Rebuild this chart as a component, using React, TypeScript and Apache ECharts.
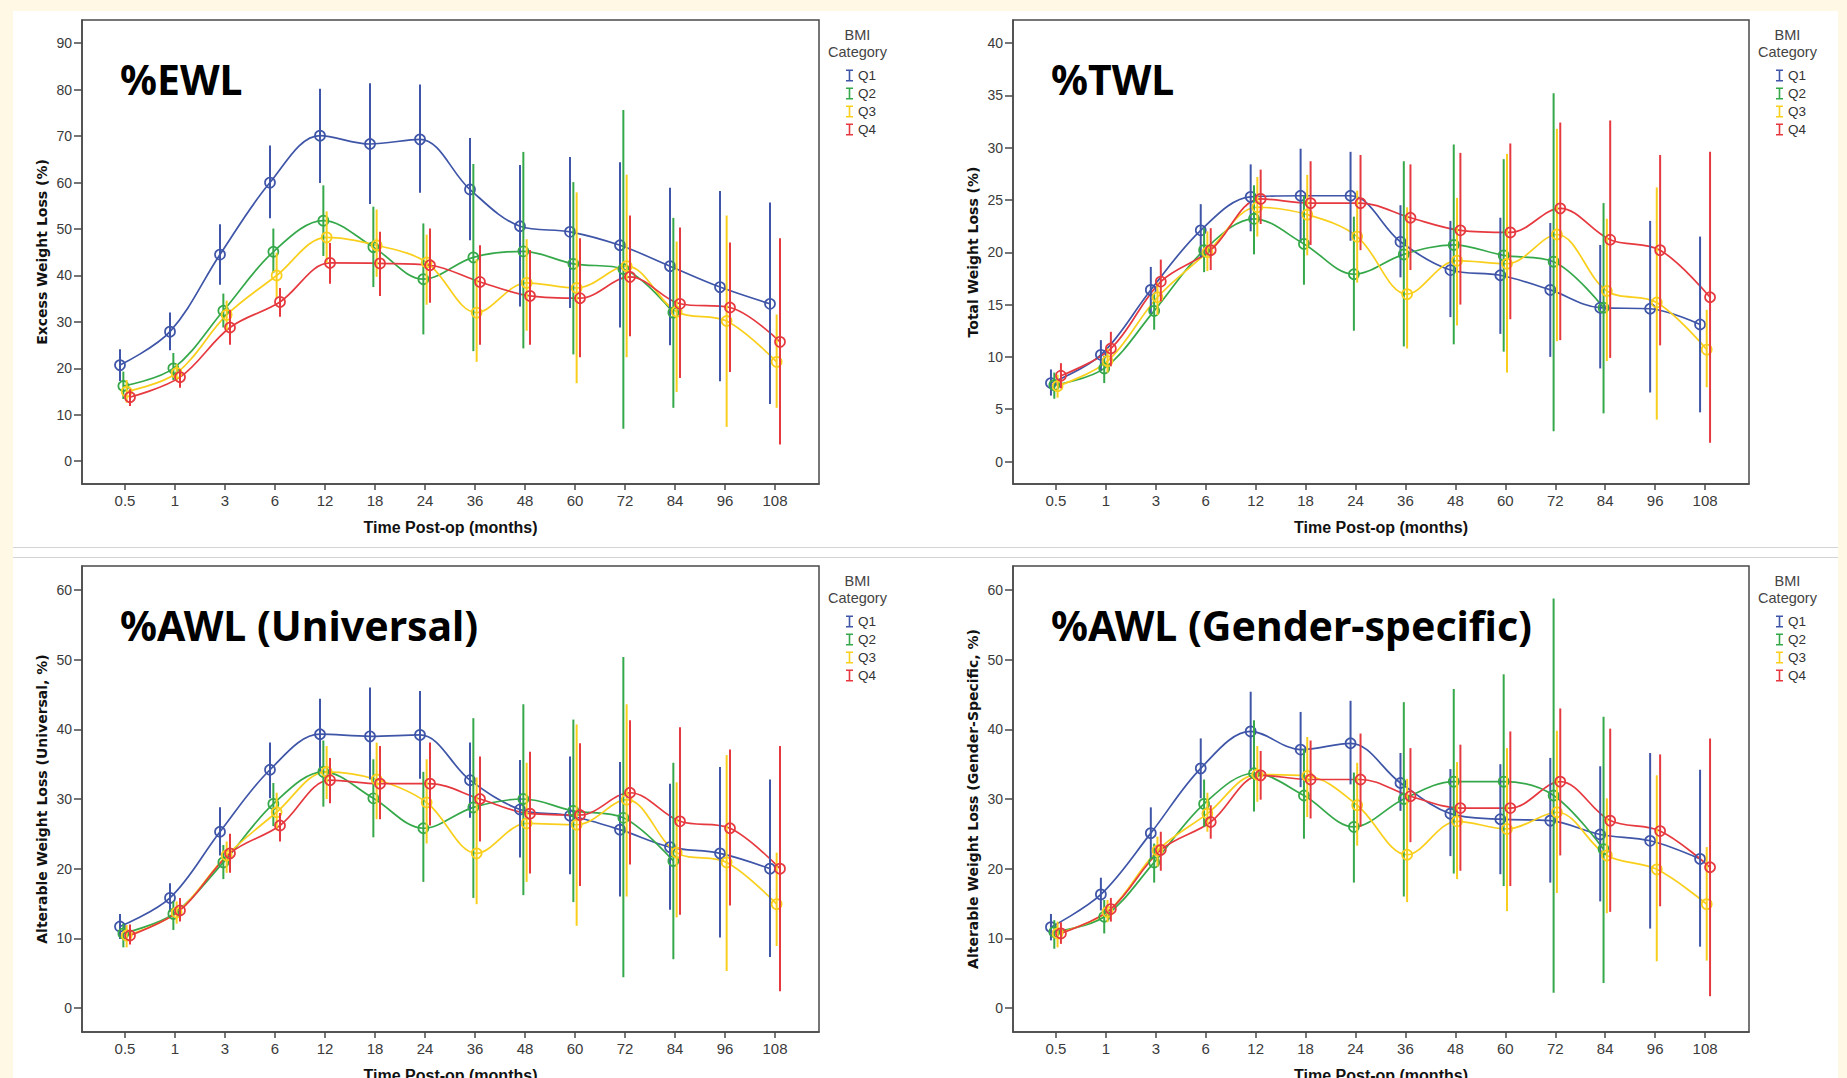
import React, { useEffect, useRef } from "react";
import * as echarts from "echarts";

// ---------------- data ----------------
const categories = ["0.5", "1", "3", "6", "12", "18", "24", "36", "48", "60", "72", "84", "96", "108"];
const groups = ["Q1", "Q2", "Q3", "Q4"];
const groupColors = ["#3E55A8", "#35A84A", "#F9CF1C", "#E6393F"];
const groupOffsets = [-0.1, -0.033, 0.033, 0.1];

const ewlTicks = [0, 10, 20, 30, 40, 50, 60, 70, 80, 90];
const twlTicks = [0, 5, 10, 15, 20, 25, 30, 35, 40];
const awlTicks = [0, 10, 20, 30, 40, 50, 60];

// %EWL
const ewlQ1Mean = [20.7, 27.9, 44.5, 60.0, 70.1, 68.3, 69.3, 58.5, 50.6, 49.4, 46.5, 42.0, 37.5, 33.9];
const ewlQ1Low = [17.3, 23.9, 38.0, 52.3, 59.9, 55.4, 57.8, 47.6, 33.3, 33.0, 28.8, 25.0, 17.2, 12.3];
const ewlQ1High = [24.1, 32.0, 51.0, 68.0, 80.2, 81.4, 81.1, 69.6, 63.8, 65.5, 64.4, 58.9, 58.2, 55.7];
const ewlQ2Mean = [16.2, 20.0, 32.4, 45.1, 51.8, 46.1, 39.2, 43.9, 45.2, 42.5, 41.4, 32.0, null, null];
const ewlQ2Low = [13.4, 17.5, 28.8, 40.5, 44.2, 37.5, 27.3, 23.7, 24.3, 23.0, 7.0, 11.5, null, null];
const ewlQ2High = [19.3, 23.3, 36.1, 50.1, 59.4, 54.8, 51.2, 64.0, 66.6, 60.1, 75.6, 52.4, null, null];
const ewlQ3Mean = [15.0, 19.0, 31.5, 40.0, 48.2, 46.5, 42.8, 32.0, 38.4, 37.3, 42.0, 32.2, 30.2, 21.4];
const ewlQ3Low = [12.6, 17.2, 28.1, 35.0, 42.7, 39.7, 33.7, 21.4, 28.1, 16.8, 22.4, 14.9, 7.4, 11.5];
const ewlQ3High = [17.5, 20.9, 34.6, 44.9, 53.8, 54.2, 48.8, 43.5, 47.8, 57.9, 61.7, 47.3, 52.9, 31.6];
const ewlQ4Mean = [13.8, 18.1, 28.8, 34.3, 42.7, 42.6, 42.2, 38.6, 35.6, 35.1, 39.7, 33.9, 33.1, 25.7];
const ewlQ4Low = [11.9, 15.8, 25.1, 31.1, 38.2, 35.6, 34.1, 25.1, 25.1, 22.4, 26.9, 17.9, 19.2, 3.6];
const ewlQ4High = [15.5, 19.8, 32.6, 37.3, 47.0, 49.4, 50.1, 46.5, 45.5, 48.0, 52.9, 50.3, 47.1, 48.0];

// %TWL
const twlQ1Mean = [7.5, 10.2, 16.4, 22.1, 25.3, 25.4, 25.4, 21.0, 18.3, 17.8, 16.4, 14.7, 14.6, 13.1];
const twlQ1Low = [6.3, 8.7, 14.1, 19.5, 22.0, 21.0, 21.1, 17.6, 13.8, 12.2, 10.0, 8.9, 6.6, 4.7];
const twlQ1High = [8.8, 11.6, 18.6, 24.6, 28.4, 29.9, 29.6, 24.5, 23.0, 23.3, 22.8, 20.7, 23.0, 21.5];
const twlQ2Mean = [7.3, 8.9, 14.4, 20.2, 23.2, 20.8, 17.9, 19.8, 20.7, 19.7, 19.1, 14.7, null, null];
const twlQ2Low = [6.0, 7.5, 12.6, 18.1, 19.8, 16.9, 12.5, 11.0, 11.2, 10.5, 2.9, 4.6, null, null];
const twlQ2High = [8.5, 10.1, 16.0, 22.3, 26.4, 25.4, 23.4, 28.7, 30.3, 28.9, 35.2, 24.7, null, null];
const twlQ3Mean = [7.2, 9.6, 15.7, 20.0, 24.3, 23.6, 21.5, 16.0, 19.2, 18.9, 21.7, 16.3, 15.2, 10.7];
const twlQ3Low = [6.1, 8.5, 14.0, 18.2, 21.5, 19.7, 17.1, 10.8, 13.0, 8.5, 11.5, 9.6, 4.0, 7.1];
const twlQ3High = [8.3, 10.8, 17.1, 22.0, 27.2, 27.4, 25.9, 24.3, 25.2, 29.4, 31.8, 23.2, 26.2, 14.5];
const twlQ4Mean = [8.2, 10.8, 17.2, 20.2, 25.1, 24.7, 24.7, 23.3, 22.1, 21.9, 24.2, 21.2, 20.2, 15.7];
const twlQ4Low = [7.0, 9.1, 15.3, 18.3, 22.7, 20.7, 20.2, 18.3, 15.0, 13.6, 11.6, 9.9, 11.1, 1.8];
const twlQ4High = [9.4, 12.4, 19.3, 22.3, 27.9, 28.7, 29.3, 28.4, 29.5, 30.4, 32.4, 32.6, 29.3, 29.6];

// %AWL (Universal)
const awuQ1Mean = [11.7, 15.8, 25.3, 34.2, 39.3, 39.0, 39.2, 32.7, 28.5, 27.6, 25.6, 23.1, 22.2, 20.0];
const awuQ1Low = [9.9, 13.8, 21.9, 30.1, 34.0, 32.8, 32.9, 27.3, 21.6, 19.2, 16.0, 14.1, 10.1, 7.3];
const awuQ1High = [13.5, 17.9, 28.8, 38.1, 44.4, 46.0, 45.5, 38.1, 35.6, 36.1, 35.3, 32.2, 34.6, 32.8];
const awuQ2Mean = [10.7, 13.5, 20.9, 29.3, 33.9, 30.1, 25.8, 28.8, 30.0, 28.3, 27.3, 21.1, null, null];
const awuQ2Low = [8.7, 11.2, 18.5, 26.1, 28.9, 24.5, 18.1, 15.8, 16.2, 15.2, 4.4, 7.0, null, null];
const awuQ2High = [12.1, 15.3, 23.4, 32.3, 38.4, 35.7, 33.9, 41.6, 43.6, 41.4, 50.4, 35.2, null, null];
const awuQ3Mean = [10.4, 13.7, 21.9, 28.1, 33.9, 32.8, 29.5, 22.2, 26.5, 26.3, 29.9, 22.3, 20.9, 14.9];
const awuQ3Low = [8.7, 12.1, 19.4, 25.5, 30.0, 27.1, 23.6, 14.9, 18.1, 11.8, 16.0, 13.0, 5.3, 8.9];
const awuQ3High = [11.9, 15.3, 23.9, 30.9, 37.6, 38.1, 35.7, 33.1, 35.2, 40.7, 43.6, 32.4, 36.3, 22.3];
const awuQ4Mean = [10.4, 14.0, 22.2, 26.2, 32.7, 32.2, 32.2, 30.0, 27.9, 27.7, 30.9, 26.8, 25.8, 20.0];
const awuQ4Low = [9.1, 12.4, 19.4, 23.9, 29.4, 27.1, 26.2, 23.9, 19.3, 17.5, 20.6, 13.4, 14.7, 2.4];
const awuQ4High = [12.0, 15.8, 25.0, 28.0, 35.9, 37.6, 38.1, 36.1, 36.8, 38.0, 41.3, 40.3, 37.1, 37.6];

// %AWL (Gender-specific)
const awgQ1Mean = [11.6, 16.3, 25.1, 34.4, 39.7, 37.1, 38.0, 32.3, 27.9, 27.1, 26.9, 24.9, 24.0, 21.4];
const awgQ1Low = [9.7, 14.0, 21.5, 30.1, 34.0, 31.7, 32.1, 28.3, 21.8, 19.2, 18.0, 15.3, 11.4, 8.8];
const awgQ1High = [13.5, 18.7, 28.8, 38.7, 45.4, 42.5, 44.1, 36.6, 34.3, 35.0, 35.9, 34.7, 36.6, 34.2];
const awgQ2Mean = [10.9, 13.1, 20.9, 29.3, 33.7, 30.5, 26.0, 30.0, 32.5, 32.5, 30.5, 22.8, null, null];
const awgQ2Low = [8.5, 10.7, 18.0, 26.0, 28.2, 24.3, 18.0, 16.0, 19.3, 17.5, 2.2, 3.6, null, null];
const awgQ2High = [12.6, 15.5, 23.6, 32.8, 41.3, 37.2, 33.8, 43.9, 45.8, 47.9, 58.8, 41.8, null, null];
const awgQ3Mean = [10.7, 13.8, 22.6, 27.9, 33.5, 33.3, 29.1, 22.0, 26.8, 25.7, 28.1, 21.9, 19.9, 14.9];
const awgQ3Low = [8.7, 12.3, 20.3, 25.3, 29.6, 27.4, 23.3, 15.2, 18.5, 13.9, 16.5, 13.6, 6.7, 6.8];
const awgQ3High = [12.4, 15.5, 24.6, 30.9, 37.6, 38.9, 35.2, 32.9, 35.3, 37.3, 39.8, 30.1, 33.4, 23.1];
const awgQ4Mean = [10.7, 14.2, 22.7, 26.7, 33.4, 32.8, 32.8, 30.4, 28.7, 28.7, 32.5, 26.9, 25.4, 20.2];
const awgQ4Low = [9.2, 12.4, 19.7, 24.3, 29.9, 27.2, 26.0, 23.8, 19.7, 17.5, 21.9, 13.8, 14.6, 1.7];
const awgQ4High = [12.3, 15.8, 25.3, 29.1, 36.9, 38.4, 39.4, 37.3, 37.8, 39.7, 43.0, 40.1, 36.4, 38.7];

// ---------------- panels ----------------
const panels = [
  {
    title: "%EWL", yName: "Excess Weight Loss (%)", yMin: -4.9, yMax: 95, ticks: ewlTicks,
    mean: [ewlQ1Mean, ewlQ2Mean, ewlQ3Mean, ewlQ4Mean],
    low: [ewlQ1Low, ewlQ2Low, ewlQ3Low, ewlQ4Low],
    high: [ewlQ1High, ewlQ2High, ewlQ3High, ewlQ4High],
  },
  {
    title: "%TWL", yName: "Total Weight Loss (%)", yMin: -2.15, yMax: 42.2, ticks: twlTicks,
    mean: [twlQ1Mean, twlQ2Mean, twlQ3Mean, twlQ4Mean],
    low: [twlQ1Low, twlQ2Low, twlQ3Low, twlQ4Low],
    high: [twlQ1High, twlQ2High, twlQ3High, twlQ4High],
  },
  {
    title: "%AWL (Universal)", yName: "Alterable Weight Loss (Universal, %)", yMin: -3.45, yMax: 63.45, ticks: awlTicks,
    mean: [awuQ1Mean, awuQ2Mean, awuQ3Mean, awuQ4Mean],
    low: [awuQ1Low, awuQ2Low, awuQ3Low, awuQ4Low],
    high: [awuQ1High, awuQ2High, awuQ3High, awuQ4High],
  },
  {
    title: "%AWL (Gender-specific)", yName: "Alterable Weight Loss (Gender-Specific, %)", yMin: -3.45, yMax: 63.45, ticks: awlTicks,
    mean: [awgQ1Mean, awgQ2Mean, awgQ3Mean, awgQ4Mean],
    low: [awgQ1Low, awgQ2Low, awgQ3Low, awgQ4Low],
    high: [awgQ1High, awgQ2High, awgQ3High, awgQ4High],
  },
];

const layout = [
  { left: 82, top: 20, width: 737, height: 464 },
  { left: 1013, top: 20, width: 736, height: 464 },
  { left: 82, top: 566, width: 737, height: 466 },
  { left: 1013, top: 566, width: 736, height: 466 },
];

const NARROW = "'Liberation Sans Narrow', 'Liberation Sans', Arial, sans-serif";
const SANS = "'Liberation Sans', Arial, sans-serif";
const AXIS_COLOR = "#4a4a4a";
const IBEAM = "path://M0,0H7V1.6H4.3V10.4H7V12H0V10.4H2.7V1.6H0Z";

function makeRender(color: string) {
  return (params: any, api: any) => {
    const x = api.value(0);
    const pM = api.coord([x, api.value(1)]);
    const pLo = api.coord([x, api.value(2)]);
    const pHi = api.coord([x, api.value(3)]);
    return {
      type: "group",
      children: [
        { type: "line", shape: { x1: pLo[0], y1: pLo[1], x2: pHi[0], y2: pHi[1] }, style: { stroke: color, lineWidth: 2 } },
        { type: "circle", shape: { cx: pM[0], cy: pM[1], r: 5 }, style: { fill: "none", stroke: color, lineWidth: 1.7 } },
      ],
    };
  };
}

function buildOption() {
  const xIdx = categories.map((_, i) => i);
  const grid: any[] = [];
  const xAxis: any[] = [];
  const yAxis: any[] = [];
  const series: any[] = [];
  const legend: any[] = [];
  const graphic: any[] = [
    { type: "rect", z: -10, shape: { x: 13, y: 11, width: 1825, height: 1067 }, style: { fill: "#ffffff" } },
    { type: "line", z: -5, shape: { x1: 13, y1: 547.5, x2: 1838, y2: 547.5 }, style: { stroke: "#d4d4d4", lineWidth: 1 } },
    { type: "line", z: -5, shape: { x1: 13, y1: 557.5, x2: 1838, y2: 557.5 }, style: { stroke: "#d4d4d4", lineWidth: 1 } },
  ];

  panels.forEach((p, pi) => {
    const L = layout[pi];
    grid.push({
      left: L.left, top: L.top, width: L.width, height: L.height,
      containLabel: false, outerBoundsMode: "none",
      show: true, backgroundColor: "#ffffff", borderColor: AXIS_COLOR, borderWidth: 1.5,
    });
    xAxis.push({
      type: "value", gridIndex: pi, min: -0.86, max: 13.88,
      splitLine: { show: false },
      axisLine: { show: true, onZero: false, lineStyle: { color: AXIS_COLOR, width: 1.5 } },
      axisTick: { show: true, length: 6, customValues: xIdx, lineStyle: { color: AXIS_COLOR, width: 1.5 } },
      axisLabel: {
        customValues: xIdx, formatter: (v: number) => categories[Math.round(v)] ?? "",
        fontSize: 15, color: "#3a3a3a", fontFamily: NARROW, margin: 9,
      },
      name: "Time Post-op (months)", nameLocation: "middle", nameGap: 35,
      nameTextStyle: { fontWeight: "bold", fontSize: 16, color: "#111", fontFamily: SANS },
    });
    yAxis.push({
      type: "value", gridIndex: pi, min: p.yMin, max: p.yMax,
      splitLine: { show: false },
      axisLine: { show: true, onZero: false, lineStyle: { color: AXIS_COLOR, width: 1.5 } },
      axisTick: { show: true, length: 8, customValues: p.ticks, lineStyle: { color: AXIS_COLOR, width: 1.5 } },
      axisLabel: { customValues: p.ticks, fontSize: 14, color: "#3a3a3a", fontFamily: NARROW, margin: 10 },
      name: p.yName, nameLocation: "middle", nameGap: 33, nameRotate: 90,
      nameTextStyle: { fontWeight: "bold", fontSize: 14, color: "#111", fontFamily: "'DejaVu Sans', sans-serif" },
    });

    groups.forEach((g, gi) => {
      const color = groupColors[gi];
      const pts: number[][] = [];
      const bars: number[][] = [];
      p.mean[gi].forEach((m: any, i: number) => {
        if (m == null) return;
        const x = i + groupOffsets[gi];
        pts.push([x, m]);
        bars.push([x, m, p.low[gi][i] as number, p.high[gi][i] as number]);
      });
      series.push({
        type: "line", name: g, xAxisIndex: pi, yAxisIndex: pi, data: pts,
        smooth: 0.35, symbol: "none", silent: true, z: 2,
        lineStyle: { color, width: 1.7 }, itemStyle: { color },
      });
      series.push({
        type: "custom", name: g, xAxisIndex: pi, yAxisIndex: pi, data: bars,
        encode: { x: 0, y: [1, 2, 3] }, renderItem: makeRender(color), silent: true, z: 3,
      });
    });

    const right = L.left + L.width;
    legend.push({
      show: true, orient: "vertical", left: right + 22, top: L.top + 43.5,
      itemWidth: 7, itemHeight: 12, itemGap: 4, selectedMode: false,
      data: groups.map((g, gi) => ({ name: g, icon: IBEAM, itemStyle: { color: groupColors[gi], borderWidth: 0 } })),
      textStyle: { fontSize: 13.5, color: "#333", fontFamily: NARROW },
    });

    graphic.push({
      type: "text", z: 100, x: L.left + 38, y: L.top + 58.5,
      style: { text: p.title, fontSize: 41, fontWeight: "bold", fontFamily: "'Noto Sans', 'Open Sans', sans-serif", fill: "#000", verticalAlign: "middle", align: "left" },
    });
    graphic.push({
      type: "text", z: 100, x: right + 38.5, y: L.top + 15,
      style: { text: "BMI", fontSize: 14.5, fontFamily: SANS, fill: "#444", verticalAlign: "middle", align: "center" },
    });
    graphic.push({
      type: "text", z: 100, x: right + 38.5, y: L.top + 31.5,
      style: { text: "Category", fontSize: 14.5, fontFamily: SANS, fill: "#444", verticalAlign: "middle", align: "center" },
    });
  });

  return {
    animation: false,
    backgroundColor: "#FFF8E5",
    grid, xAxis, yAxis, series, legend, graphic,
  };
}

export default function App() {
  const ref = useRef<HTMLDivElement>(null);
  useEffect(() => {
    const chart = echarts.init(ref.current!, null, { renderer: "svg" });
    chart.setOption(buildOption() as any);
    return () => chart.dispose();
  }, []);
  return <div ref={ref} style={{ position: "absolute", left: 0, top: 0, width: 1847, height: 1078 }} />;
}
